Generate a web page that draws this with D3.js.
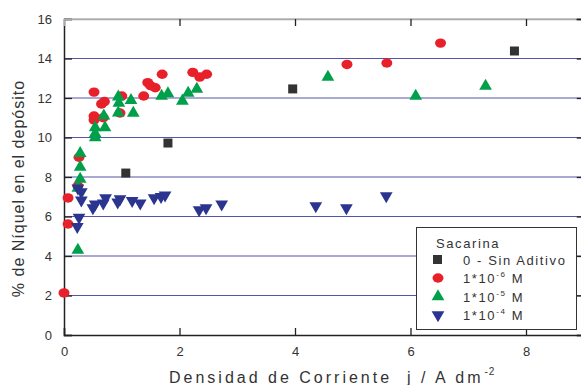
<!DOCTYPE html>
<html><head><meta charset="utf-8">
<script src="https://cdn.jsdelivr.net/npm/d3@7"></script>
<style>html,body{margin:0;padding:0;background:#fff;overflow:hidden}</style>
</head><body>
<svg id="c" width="581" height="385"></svg>
<script>
// Data
const xTicks = [0, 2, 4, 6, 8];
const yTicks = [0, 2, 4, 6, 8, 10, 12, 14, 16];
const seriesNames = ["0 - Sin Aditivo", "1e-6", "1e-5", "1e-4"];

const sinX = [1.07, 1.80, 3.96, 7.80];
const sinY = [8.20, 9.72, 12.46, 14.38];

const e6X = [0.00, 0.07, 0.07, 0.24, 0.26, 0.52, 0.52, 0.52, 0.65, 0.70, 0.68, 0.97, 1.00, 1.38, 1.45, 1.50, 1.58, 1.70, 2.23, 2.35, 2.47, 4.90, 5.59, 6.52];
const e6Y = [2.13, 5.62, 6.94, 7.54, 9.00, 12.30, 11.09, 10.89, 11.70, 11.82, 11.00, 11.24, 12.10, 12.10, 12.78, 12.62, 12.52, 13.20, 13.30, 13.06, 13.20, 13.70, 13.77, 14.78];

const e5X = [0.24, 0.28, 0.28, 0.28, 0.24, 0.54, 0.54, 0.54, 0.69, 0.71, 0.94, 0.95, 0.94, 1.16, 1.20, 1.69, 1.80, 2.05, 2.15, 2.30, 4.57, 6.09, 7.30];
const e5Y = [4.30, 9.20, 8.50, 7.90, 7.44, 10.50, 10.20, 10.00, 11.10, 10.50, 12.06, 11.74, 11.25, 11.88, 11.24, 12.10, 12.22, 11.85, 12.25, 12.45, 13.06, 12.10, 12.60];

const e4X = [0.24, 0.30, 0.30, 0.26, 0.23, 0.50, 0.54, 0.68, 0.72, 0.93, 0.97, 1.18, 1.32, 1.56, 1.68, 1.75, 2.34, 2.46, 2.73, 4.36, 4.89, 5.58];
const e4Y = [7.44, 7.24, 6.83, 5.95, 5.48, 6.43, 6.63, 6.68, 6.94, 6.73, 6.89, 6.80, 6.68, 6.94, 7.00, 7.08, 6.33, 6.43, 6.63, 6.53, 6.43, 7.04];

const colors = {sin: "#333333", e6: "#e8202a", e5: "#00a04a", e4: "#2b3590"};

const svg = d3.select("#c");
const x = d3.scaleLinear().domain([0, 9]).range([64, 583.75]);
const y = d3.scaleLinear().domain([0, 16]).range([335, 19]);
const font = "'Liberation Sans', Arial, sans-serif";

// gridlines
svg.append("g").selectAll("line").data(yTicks.filter(d => d > 0 && d < 16)).join("line")
  .attr("x1", x(0)).attr("x2", x(9)).attr("y1", d => y(d)).attr("y2", d => y(d))
  .attr("stroke", "#5555aa").attr("stroke-width", 1.2);
// top frame line
svg.append("line").attr("x1", x(0)).attr("x2", x(9)).attr("y1", y(16)).attr("y2", y(16))
  .attr("stroke", "#999").attr("stroke-width", 1.2);

// axes
const axL = svg.append("g").attr("transform", `translate(${x(0)},0)`)
  .call(d3.axisLeft(y).tickValues(yTicks).tickSize(-8).tickPadding(12).tickFormat(d3.format("d")));
const axB = svg.append("g").attr("transform", `translate(0,${y(0)})`)
  .call(d3.axisBottom(x).tickValues(xTicks).tickSize(-7).tickPadding(12).tickFormat(d3.format("d")));
const axT = svg.append("g").attr("transform", `translate(0,${y(16)})`)
  .call(d3.axisTop(x).tickValues(xTicks.filter(d => d > 0)).tickSize(-7).tickFormat(""));
const axR = svg.append("g").attr("transform", `translate(${x(9)},0)`)
  .call(d3.axisRight(y).tickValues(yTicks).tickSize(-7).tickFormat(""));
[axL, axB, axT, axR].forEach(a => {
  a.select(".domain").attr("stroke", "#222").attr("stroke-width", 1.5);
  a.selectAll(".tick line").attr("stroke", "#222").attr("stroke-width", 1.3);
  a.selectAll("text").attr("fill", "#333").style("font-family", font).style("font-size", "13px");
});
axT.select(".domain").attr("stroke", "#aaa");

// markers
const tri = d3.symbol().type(d3.symbolTriangle).size(70);
svg.append("g").selectAll("rect").data(d3.zip(sinX, sinY)).join("rect")
  .attr("x", d => x(d[0]) - 4.5).attr("y", d => y(d[1]) - 4.5).attr("width", 9).attr("height", 9)
  .attr("fill", colors.sin);
svg.append("g").selectAll("ellipse").data(d3.zip(e6X, e6Y)).join("ellipse")
  .attr("cx", d => x(d[0])).attr("cy", d => y(d[1])).attr("rx", 5.5).attr("ry", 4.7)
  .attr("fill", colors.e6);
svg.append("g").selectAll("path").data(d3.zip(e5X, e5Y)).join("path")
  .attr("d", tri).attr("transform", d => `translate(${x(d[0])},${y(d[1])})`)
  .attr("fill", colors.e5);
svg.append("g").selectAll("path").data(d3.zip(e4X, e4Y)).join("path")
  .attr("d", tri).attr("transform", d => `translate(${x(d[0])},${y(d[1])}) rotate(180)`)
  .attr("fill", colors.e4);

// axis titles
svg.append("text").attr("transform", "translate(24,188.5) rotate(-90)")
  .attr("text-anchor", "middle").attr("fill", "#333")
  .style("font-family", font).style("font-size", "16px").style("letter-spacing", "1px")
  .text("% de Níquel en el depósito");
const xt = svg.append("text").attr("x", 169).attr("y", 383).attr("fill", "#333")
  .style("font-family", font).style("font-size", "16px").style("letter-spacing", "3px");
xt.append("tspan").text("Densidad de Corriente \u00a0j / A dm");
xt.append("tspan").attr("dy", -8).attr("dx", 1).style("font-size", "10px").style("letter-spacing", "1px").text("-2");

// legend
const lg = svg.append("g");
lg.append("rect").attr("x", 416.5).attr("y", 227.5).attr("width", 160).attr("height", 102)
  .attr("fill", "#fff").attr("stroke", "#333").attr("stroke-width", 1);
const lt = (tx, ty) => lg.append("text").attr("x", tx).attr("y", ty).attr("fill", "#333")
  .style("font-family", font).style("font-size", "13px").style("letter-spacing", "1.6px");
lt(436, 248).text("Sacarina");
const rows = [259.5, 278, 296.5, 315];
lg.append("rect").attr("x", 433).attr("y", rows[0] - 4.5).attr("width", 9).attr("height", 9).attr("fill", colors.sin);
lg.append("ellipse").attr("cx", 438).attr("cy", rows[1]).attr("rx", 5.5).attr("ry", 4.7).attr("fill", colors.e6);
lg.append("path").attr("d", tri).attr("transform", `translate(438,${rows[2]})`).attr("fill", colors.e5);
lg.append("path").attr("d", tri).attr("transform", `translate(438,${rows[3]}) rotate(180)`).attr("fill", colors.e4);
lt(463, rows[0] + 5).text(seriesNames[0]);
const exps = ["-6", "-5", "-4"];
exps.forEach((e, i) => {
  const t = lt(463, rows[i + 1] + 5);
  t.append("tspan").text("1*10");
  t.append("tspan").attr("dy", -6).style("font-size", "8px").text(e);
  t.append("tspan").attr("dy", 6).text(" M");
});
</script>
</body></html>
